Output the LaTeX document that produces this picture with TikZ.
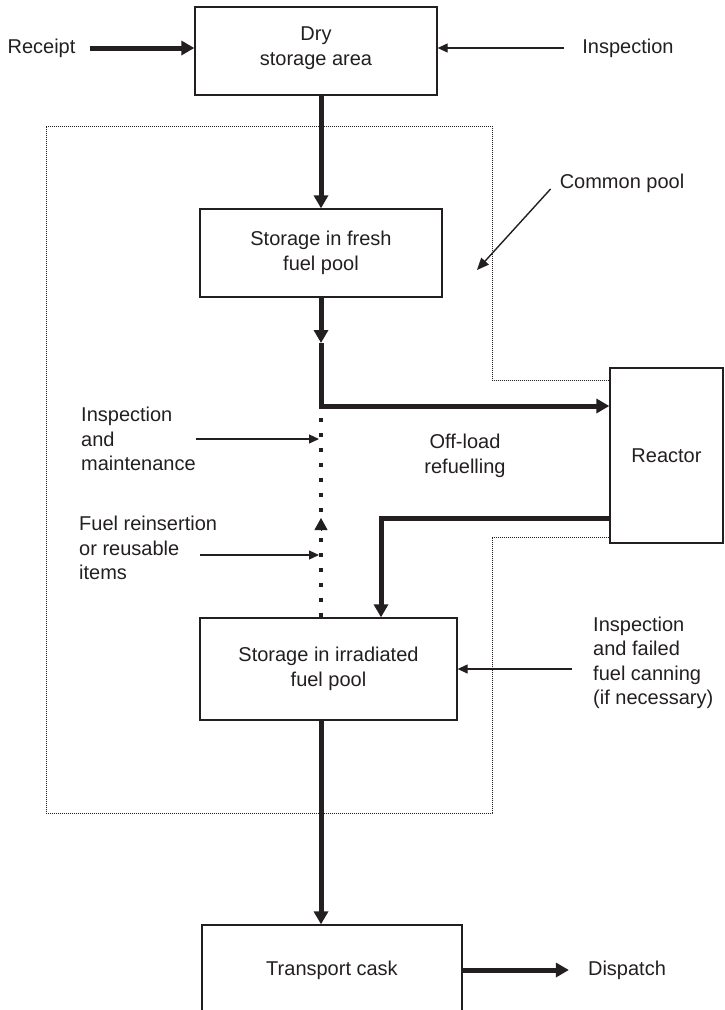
\documentclass[tikz,border=0pt]{standalone}
\usepackage{fontspec}
\setmainfont{Liberation Sans}
\usetikzlibrary{arrows.meta}
\definecolor{ink}{RGB}{35,31,32}
\begin{document}
\begin{tikzpicture}[x=1pt,y=-1pt,
		font=\fontsize{20}{24.5}\selectfont, color=ink,
		box/.style={draw, line width=1.3pt, inner sep=0pt, align=center},
		lbl/.style={inner sep=0pt, align=left},
		fat/.style={line width=5pt, -{Triangle[length=13pt,width=14pt]}},
		slim/.style={line width=1.2pt, -{Triangle[length=10pt,width=9pt]}},
		pool/.style={line width=0.9pt, dash pattern=on 1pt off 1pt},
		dots/.style={line width=4pt, dash pattern=on 4pt off 11pt}]
		\useasboundingbox (0,0) rectangle (725,1010);
		%Boxen
		\node[box, minimum width=242pt, minimum height=88pt, text depth=10pt] (dry) at (316,51) {Dry\\storage area};
		\node[box, minimum width=242pt, minimum height=88pt] (fresh) at (321,253) {Storage in fresh\\fuel pool};
		\node[box, minimum width=113pt, minimum height=175pt] (reactor) at (666.5,455.5) {Reactor};
		\node[box, minimum width=257pt, minimum height=102pt] (irr) at (328.5,669) {Storage in irradiated\\fuel pool};
		\node[box, minimum width=260pt, minimum height=90pt] (cask) at (332,970) {Transport cask};
		%common pool
		\draw[pool] (reactor.west |- 0,380) -- (492,380) -- (492,126) -- (46,126) -- (46,813) -- (492,813) -- (492,537) -- (reactor.west |- 0,537);
		%Texte
		\node[lbl] (receipt) at (41.5,48) {Receipt};
		\node[lbl] (insp) at (628,48) {Inspection};
		\node[lbl] (common) at (622,183) {Common pool};
		\node[lbl, anchor=west] (maint) at (81,439) {Inspection\\and\\maintenance};
		\node[lbl, anchor=west] (reins) at (79,548) {Fuel reinsertion\\or reusable\\items};
		\node[lbl, align=center] (offload) at (465,456) {Off-load\\refuelling};
		\node[lbl, anchor=west] (canning) at (593,663) {Inspection\\and failed\\fuel canning\\(if necessary)};
		\node[lbl] (dispatch) at (627,970) {Dispatch};
		%Hilfspunkte
		\coordinate (mid) at (321,343);
		\coordinate (turn) at (321,406);
		\coordinate (back) at (381,518);
		\coordinate (pooltip) at (477,270);
		\coordinate (reinsfoot) at (200,555);
		\coordinate (cantail) at (572,669);
		\coordinate (uptip) at (321,518);
		%Pfeile
		\draw[fat] ([xshift=14pt]receipt.east) -- (receipt -| dry.west);
		\draw[slim] ([xshift=-18pt]insp.west) -- (insp -| dry.east);
		\draw[fat] (fresh.north |- dry.south) -- (fresh.north);
		\draw[fat] (fresh.south) -- (mid);
		\draw[fat] (mid) -- (turn) -- (turn -| reactor.west);
		\draw[fat] (back -| reactor.west) -- (back) -- (back |- irr.north);
		\draw[dots] ([yshift=-12pt]turn) -- (irr.north -| turn);
		\draw[line width=1pt, -{Triangle[length=12pt,width=13pt]}] ([yshift=-13pt]uptip) -- (uptip);
		\draw[line width=1.4pt, -{Triangle[length=12pt,width=10pt]}] ([shift={(-9,6)}]common.west) -- (pooltip);
		\draw[slim, shorten >=2pt] (maint.east) -- (maint.east -| turn);
		\draw[slim, shorten >=2pt] (reinsfoot) -- (reinsfoot -| turn);
		\draw[slim] (cantail) -- (cantail -| irr.east);
		\draw[fat] (irr.south -| turn) -- (cask.north -| turn);
		\draw[fat] (cask.east) -- ([xshift=-19pt]dispatch.west);
\end{tikzpicture}
\end{document}
